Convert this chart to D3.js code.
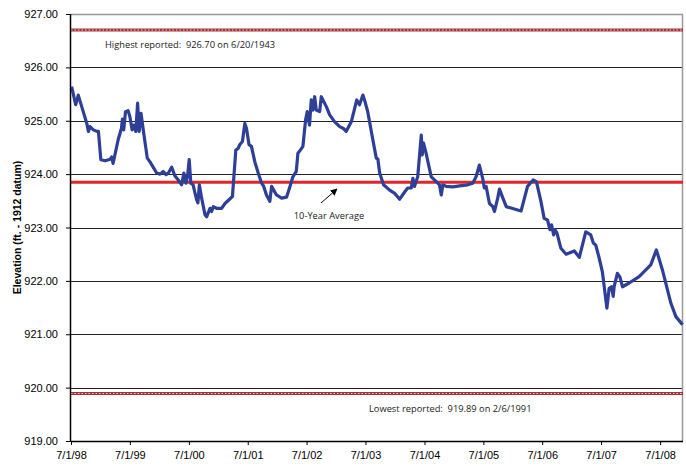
<!DOCTYPE html>
<html>
<head>
<meta charset="utf-8">
<script src="https://cdn.jsdelivr.net/npm/d3@7"></script>
<style>
  body { margin: 0; background: #fff; }
  svg { display: block; }
  .tick text { font-family: "Liberation Sans", Arial, sans-serif; font-size: 11px; fill: #000; }
  .note { font-family: "Open Sans", "Liberation Sans", sans-serif; font-size: 9.3px; fill: #222; white-space: pre; }
</style>
</head>
<body>
<svg width="686" height="466"></svg>
<script>
// elevation readings, ft (1912 datum)
const dates = [
  "1998-07-05","1998-07-30","1998-08-15","1998-09-06","1998-10-07","1998-10-17","1998-10-27","1998-11-17",
  "1998-12-08","1998-12-18","1999-01-02","1999-01-29","1999-03-01","1999-03-10","1999-03-19","1999-04-19",
  "1999-05-10","1999-05-16","1999-05-24","1999-06-04","1999-06-20","1999-07-01","1999-07-15","1999-07-25",
  "1999-08-07","1999-08-18","1999-08-28","1999-09-08","1999-09-22","1999-10-17","1999-11-03","1999-12-14",
  "2000-01-04","2000-01-24","2000-02-10","2000-02-25","2000-03-16","2000-04-05","2000-04-26","2000-05-17",
  "2000-05-31","2000-06-13","2000-06-23","2000-07-03","2000-07-13","2000-07-27","2000-08-18","2000-08-26",
  "2000-09-04","2000-09-18","2000-10-09","2000-10-19","2000-11-09","2000-11-19","2000-11-29","2000-12-20",
  "2001-01-20","2001-02-10","2001-03-28","2001-04-18","2001-05-02","2001-05-12","2001-05-29","2001-06-13",
  "2001-06-23","2001-07-09","2001-07-24","2001-08-14","2001-09-04","2001-09-25","2001-10-08","2001-10-25",
  "2001-11-15","2001-11-26","2001-12-26","2002-01-27","2002-02-27","2002-03-17","2002-04-07","2002-04-28",
  "2002-05-08","2002-05-23","2002-06-08","2002-06-25","2002-07-05","2002-07-19","2002-07-30","2002-08-09",
  "2002-08-20","2002-08-30","2002-09-20","2002-09-30","2002-11-01","2002-11-21","2002-12-22","2003-01-22",
  "2003-02-12","2003-03-03","2003-04-04","2003-05-08","2003-05-25","2003-06-15","2003-06-25","2003-07-15",
  "2003-08-16","2003-09-06","2003-09-16","2003-09-27","2003-10-21","2003-11-28","2003-12-29","2004-01-29",
  "2004-03-01","2004-03-19","2004-04-10","2004-04-20","2004-04-30","2004-05-10","2004-05-20","2004-06-11",
  "2004-06-17","2004-06-25","2004-07-11","2004-08-12","2004-09-12","2004-10-02","2004-10-13","2004-10-23",
  "2004-11-13","2004-12-24","2005-02-04","2005-03-26","2005-04-26","2005-05-17","2005-06-06","2005-06-27",
  "2005-07-07","2005-07-18","2005-08-08","2005-08-29","2005-09-08","2005-09-28","2005-10-09","2005-10-30",
  "2005-11-20","2006-02-20","2006-04-01","2006-05-06","2006-05-26","2006-06-23","2006-07-13","2006-08-03",
  "2006-08-18","2006-08-28","2006-09-10","2006-09-18","2006-10-01","2006-10-25","2006-11-26","2007-01-16",
  "2007-02-16","2007-03-28","2007-04-28","2007-05-14","2007-05-29","2007-06-19","2007-07-09","2007-08-06",
  "2007-08-20","2007-09-04","2007-09-14","2007-09-20","2007-10-10","2007-10-25","2007-11-11","2007-12-22",
  "2008-02-22","2008-05-04","2008-06-08","2008-07-15","2008-09-06","2008-10-07","2008-11-17"
];
const elevation = [
  925.64,925.30,925.48,925.26,924.95,924.80,924.89,924.83,
  924.80,924.80,924.27,924.25,924.28,924.32,924.20,924.64,
  924.86,925.03,924.83,925.17,925.19,925.08,924.83,924.92,
  924.80,925.33,924.80,925.14,924.83,924.30,924.23,924.02,
  924.00,924.05,923.99,924.02,924.13,923.97,923.89,923.80,
  924.02,923.83,923.97,924.27,923.83,923.80,923.52,923.46,
  923.80,923.55,923.24,923.20,923.36,923.30,923.39,923.36,
  923.36,923.45,923.58,924.45,924.48,924.55,924.61,924.95,
  924.86,924.55,924.52,924.23,924.02,923.83,923.77,923.61,
  923.49,923.77,923.61,923.55,923.57,923.74,923.95,924.05,
  924.39,924.45,924.52,925.02,925.17,924.92,925.39,925.20,
  925.45,925.20,925.17,925.45,925.26,925.11,924.98,924.89,
  924.86,924.80,924.98,925.39,925.30,925.48,925.39,925.17,
  924.64,924.30,924.28,924.02,923.80,923.70,923.64,923.53,
  923.67,923.74,923.74,923.92,923.77,923.86,923.95,924.73,
  924.36,924.58,924.39,923.95,923.86,923.80,923.61,923.80,
  923.77,923.76,923.78,923.80,923.83,923.95,924.17,923.92,
  923.74,923.77,923.45,923.39,923.30,923.55,923.72,923.55,
  923.39,923.31,923.77,923.89,923.86,923.49,923.17,923.14,
  922.96,923.05,922.86,922.96,922.89,922.61,922.50,922.56,
  922.44,922.92,922.86,922.71,922.67,922.43,922.17,921.49,
  921.86,921.89,921.71,921.89,922.14,922.08,921.89,921.96,
  922.08,922.30,922.58,922.21,921.58,921.33,921.18
];
const tickDates = ["1998-07-01","1999-07-01","2000-07-01","2001-07-01","2002-07-01","2003-07-01",
  "2004-07-01","2005-07-01","2006-07-01","2007-07-01","2008-07-01"];
const yTicks = [919, 920, 921, 922, 923, 924, 925, 926, 927];
const highest = 926.70, lowest = 919.89, tenYearAvg = 923.85;

const svg = d3.select("svg");
const margin = { top: 14, right: 3, bottom: 25, left: 71 },
    width = 686 - margin.left - margin.right,
    height = 466 - margin.top - margin.bottom;

const parse = d3.timeParse("%Y-%m-%d");
const series = dates.map((d, i) => ({ date: parse(d), value: elevation[i] }));

const x = d3.scaleTime()
    .domain([parse("1998-07-01"), parse("2008-11-20")])
    .range([0, width]);
const y = d3.scaleLinear().domain([919, 927]).range([height, 0]);

const g = svg.append("g").attr("transform", `translate(${margin.left},${margin.top})`);

// gridlines
g.selectAll(".grid").data(yTicks.filter(v => v > 919 && v < 927)).enter().append("line")
    .attr("x1", 0).attr("x2", width)
    .attr("y1", d => Math.round(y(d)) + 0.5).attr("y2", d => Math.round(y(d)) + 0.5)
    .attr("stroke", "#222").attr("stroke-width", 1.2);

// top / right border
g.append("path")
    .attr("d", `M0,0.5H${width - 0.5}V${height}`)
    .attr("fill", "none").attr("stroke", "#999").attr("stroke-width", 1.5);

// highest / lowest reported (dotted red bands)
[highest, lowest].forEach(v => {
    g.append("line").attr("x1", 0).attr("x2", width).attr("y1", y(v)).attr("y2", y(v))
        .attr("stroke", "#a8323a").attr("stroke-width", 3);
    g.append("line").attr("x1", 0).attr("x2", width).attr("y1", y(v)).attr("y2", y(v))
        .attr("stroke", "#f0d0d0").attr("stroke-width", 1).attr("stroke-dasharray", "1.5,2");
});

// 10-year average
g.append("line").attr("x1", 0).attr("x2", width)
    .attr("y1", y(tenYearAvg)).attr("y2", y(tenYearAvg))
    .attr("stroke", "#e3242b").attr("stroke-width", 3);

// elevation line
g.append("path").datum(series)
    .attr("fill", "none")
    .attr("stroke", "#2e3f98")
    .attr("stroke-width", 3.2)
    .attr("stroke-linejoin", "round")
    .attr("d", d3.line().x(d => x(d.date)).y(d => y(d.value)));

// axes
const yAxis = g.append("g")
    .call(d3.axisLeft(y).tickValues(yTicks).tickFormat(d3.format(".2f")).tickSize(5).tickPadding(8));
const xAxis = g.append("g").attr("transform", `translate(0,${height})`)
    .call(d3.axisBottom(x).tickValues(tickDates.map(parse)).tickFormat(d => d3.timeFormat("%-m/%-d/%y")(d)).tickSize(4).tickPadding(6));
[yAxis, xAxis].forEach(a => {
    a.select(".domain").attr("stroke", "#000").attr("stroke-width", 1.5);
    a.selectAll(".tick line").attr("stroke", "#000");
});
xAxis.select(".domain").attr("d", `M0,0.5H${width}`);
yAxis.select(".domain").attr("d", `M-0.5,0V${height}`);

// labels
g.append("text").attr("class", "note").attr("x", 34).attr("y", y(highest) + 18)
    .text("Highest reported:  926.70 on 6/20/1943");
g.append("text").attr("class", "note").attr("x", 298).attr("y", y(lowest) + 19)
    .text("Lowest reported:  919.89 on 2/6/1991");
g.append("text").attr("class", "note").attr("x", 258).attr("y", 205).attr("text-anchor", "middle")
    .text("10-Year Average");

svg.append("defs").append("marker")
    .attr("id", "arrow").attr("viewBox", "0 0 10 10").attr("refX", 9).attr("refY", 5)
    .attr("markerWidth", 7).attr("markerHeight", 7).attr("orient", "auto")
    .append("path").attr("d", "M0,0L10,5L0,10z").attr("fill", "#000");
g.append("line").attr("x1", 250).attr("y1", 189).attr("x2", 266).attr("y2", 175)
    .attr("stroke", "#000").attr("stroke-width", 1).attr("marker-end", "url(#arrow)");

svg.append("text")
    .attr("transform", `translate(21,${margin.top + height / 2}) rotate(-90)`)
    .attr("text-anchor", "middle")
    .style("font-family", "'Liberation Sans', Arial, sans-serif")
    .style("font-size", "10.5px").style("font-weight", "bold")
    .text("Elevation (ft. - 1912 datum)");
</script>
</body>
</html>
